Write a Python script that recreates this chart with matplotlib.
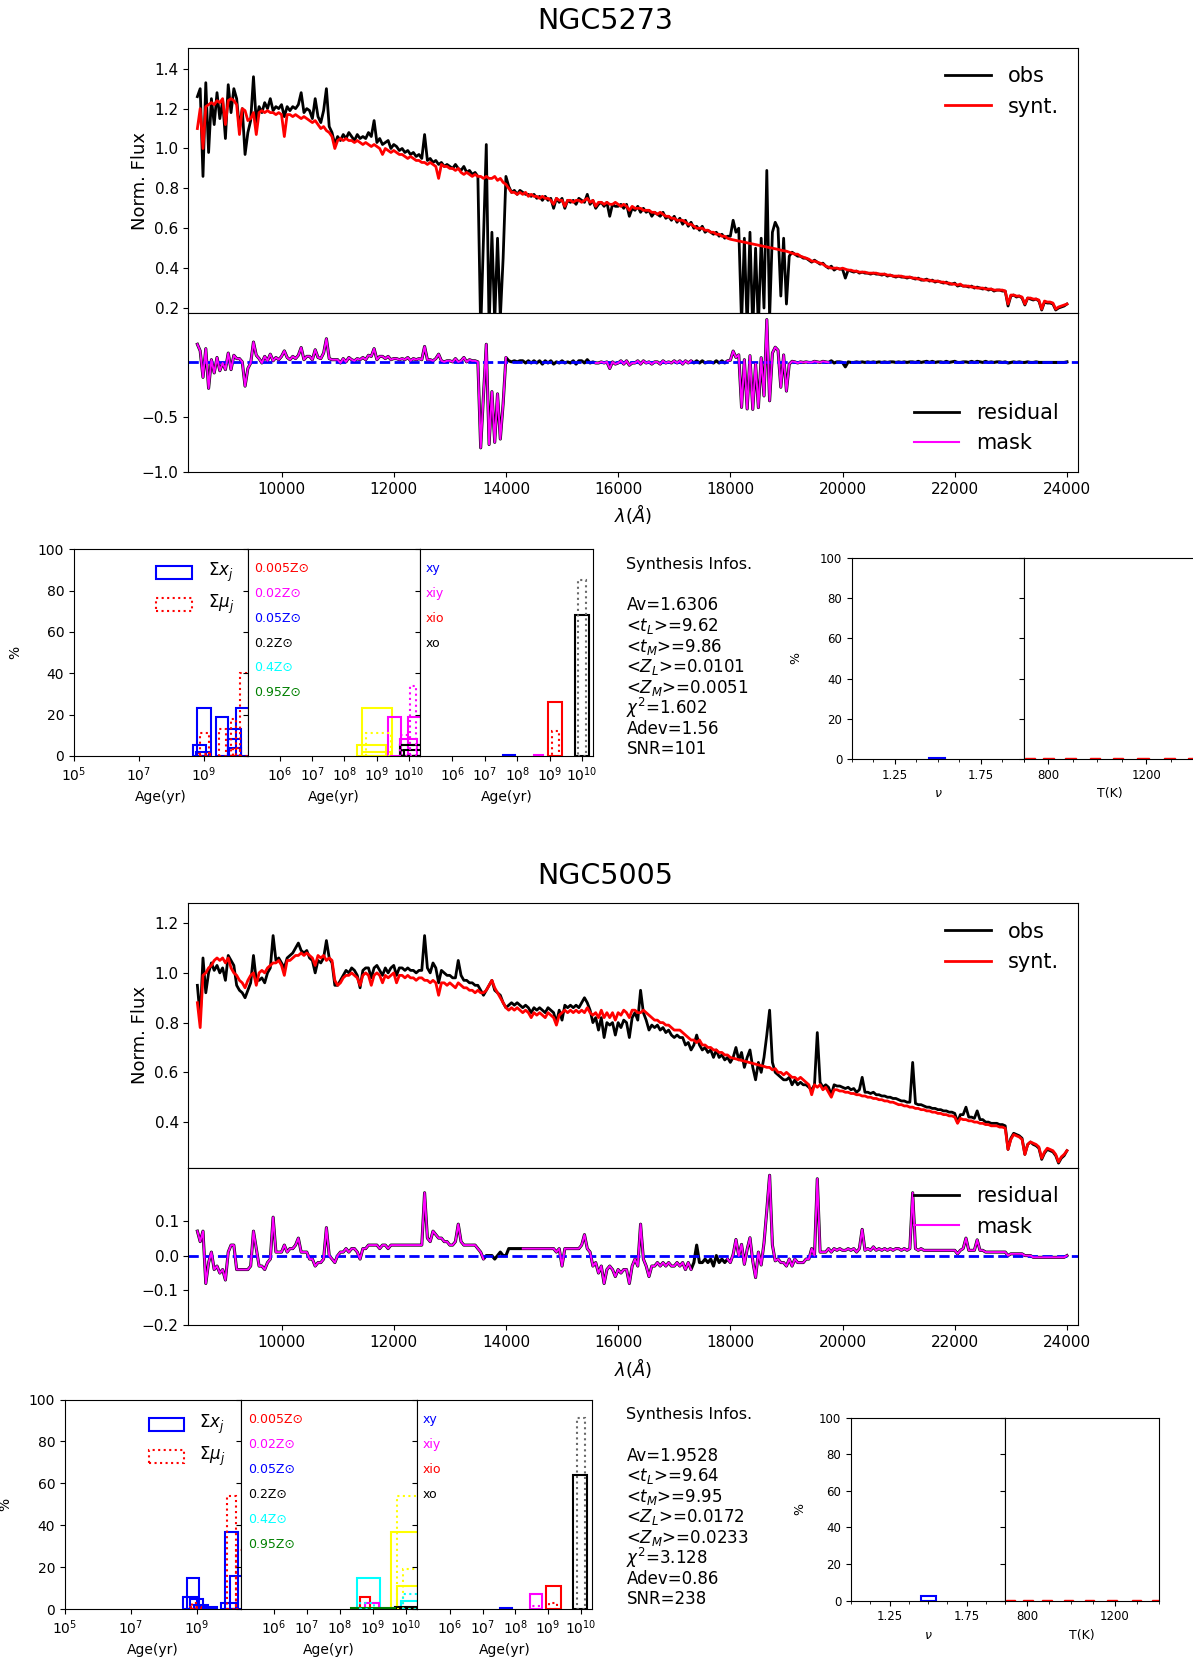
import numpy as np
import matplotlib
matplotlib.use("Agg")
import matplotlib.pyplot as plt
from matplotlib.patches import Rectangle
from matplotlib.lines import Line2D
from matplotlib.ticker import MultipleLocator, NullLocator

plt.rcParams['font.family'] = ['DejaVu Sans']

W, H = 1193, 1660

# ---------------- data ----------------
wave = np.arange(8500, 24001, 50)

n5273_synt = [
    1.10, 1.20, 1.00, 1.21, 1.22, 1.23, 1.22, 1.24, 1.23, 1.25,
    1.12, 1.24, 1.25, 1.24, 1.22, 1.07, 1.20, 1.19, 1.14, 1.15,
    1.18, 1.07, 1.18, 1.19, 1.18, 1.19, 1.18, 1.18, 1.17, 1.18,
    1.17, 1.06, 1.17, 1.17, 1.16, 1.17, 1.16, 1.15, 1.16, 1.15,
    1.14, 1.13, 1.14, 1.12, 1.10, 1.11, 1.09, 1.08, 1.06, 1.00,
    1.04, 1.05, 1.04, 1.05, 1.04, 1.04, 1.03, 1.04, 1.03, 1.02,
    1.03, 1.02, 1.01, 1.02, 1.01, 1.00, 0.97, 1.00, 0.99, 0.98,
    0.99, 0.98, 0.97, 0.97, 0.96, 0.95, 0.96, 0.95, 0.94, 0.94,
    0.93, 0.93, 0.92, 0.93, 0.92, 0.91, 0.85, 0.92, 0.91, 0.91,
    0.90, 0.90, 0.89, 0.90, 0.88, 0.87, 0.88, 0.87, 0.86, 0.87,
    0.86, 0.86, 0.85, 0.86, 0.85, 0.85, 0.86, 0.84, 0.85, 0.83,
    0.82, 0.80, 0.78, 0.78, 0.77, 0.78, 0.77, 0.78, 0.76, 0.77,
    0.76, 0.76, 0.75, 0.76, 0.75, 0.75, 0.74, 0.72, 0.75, 0.74,
    0.74, 0.71, 0.74, 0.74, 0.73, 0.74, 0.74, 0.73, 0.74, 0.75,
    0.73, 0.74, 0.71, 0.73, 0.73, 0.72, 0.73, 0.72, 0.72, 0.73,
    0.72, 0.71, 0.72, 0.71, 0.69, 0.71, 0.70, 0.70, 0.70, 0.69,
    0.69, 0.69, 0.68, 0.68, 0.67, 0.68, 0.67, 0.66, 0.66, 0.65,
    0.65, 0.64, 0.64, 0.64, 0.63, 0.62, 0.62, 0.61, 0.60, 0.60,
    0.60, 0.59, 0.59, 0.58, 0.58, 0.57, 0.57, 0.56, 0.56, 0.55,
    0.545, 0.542, 0.539, 0.536, 0.533, 0.530, 0.527, 0.524, 0.521, 0.518,
    0.515, 0.512, 0.509, 0.506, 0.503, 0.500, 0.497, 0.494, 0.490, 0.487,
    0.485, 0.48, 0.475, 0.47, 0.47, 0.46, 0.455, 0.45, 0.445, 0.435,
    0.435, 0.43, 0.425, 0.42, 0.41, 0.405, 0.40, 0.40, 0.40, 0.395,
    0.40, 0.395, 0.39, 0.39, 0.385, 0.385, 0.38, 0.38, 0.38, 0.375,
    0.375, 0.375, 0.375, 0.37, 0.37, 0.37, 0.365, 0.365, 0.36, 0.36,
    0.36, 0.36, 0.355, 0.355, 0.355, 0.35, 0.35, 0.345, 0.345, 0.34,
    0.34, 0.34, 0.335, 0.335, 0.335, 0.33, 0.33, 0.325, 0.325, 0.32,
    0.32, 0.315, 0.32, 0.31, 0.31, 0.31, 0.305, 0.305, 0.30, 0.30,
    0.30, 0.295, 0.295, 0.295, 0.29, 0.29, 0.29, 0.29, 0.285, 0.22,
    0.265, 0.265, 0.26, 0.26, 0.255, 0.22, 0.25, 0.25, 0.245, 0.245,
    0.24, 0.195, 0.235, 0.23, 0.23, 0.225, 0.195, 0.205, 0.21, 0.215,
    0.22]

n5273_obs = [
    1.26, 1.30, 0.86, 1.33, 0.98, 1.25, 1.12, 1.28, 1.15, 1.24,
    1.05, 1.32, 1.18, 1.30, 1.25, 1.10, 1.20, 0.97, 1.08, 1.14,
    1.36, 1.13, 1.21, 1.18, 1.23, 1.20, 1.25, 1.19, 1.21, 1.20,
    1.22, 1.16, 1.21, 1.19, 1.21, 1.20, 1.22, 1.28, 1.18, 1.20,
    1.19, 1.15, 1.25, 1.16, 1.13, 1.19, 1.30, 1.11, 1.08, 1.02,
    1.06, 1.04, 1.07, 1.05, 1.08, 1.06, 1.04, 1.07, 1.05, 1.06,
    1.05, 1.08, 1.06, 1.14, 1.03, 1.05, 1.02, 1.03, 1.04, 1.00,
    1.02, 1.01, 0.99, 1.00, 0.98, 0.99, 0.97, 0.98, 0.96, 0.97,
    0.95, 1.07, 0.94, 0.95, 0.93, 0.94, 0.92, 0.93, 0.91, 0.92,
    0.91, 0.90, 0.92, 0.90, 0.89, 0.91, 0.88, 0.89, 0.87, 0.88,
    0.86, 0.08, 0.55, 1.02, 0.10, 0.58, 0.13, 0.55, 0.15, 0.45,
    0.86, 0.81, 0.78, 0.79, 0.77, 0.79, 0.78, 0.77, 0.77, 0.76,
    0.77, 0.75, 0.76, 0.74, 0.76, 0.74, 0.75, 0.70, 0.75, 0.73,
    0.75, 0.70, 0.74, 0.73, 0.74, 0.72, 0.75, 0.74, 0.73, 0.77,
    0.72, 0.74, 0.70, 0.72, 0.73, 0.71, 0.73, 0.66, 0.72, 0.71,
    0.71, 0.72, 0.70, 0.72, 0.66, 0.70, 0.69, 0.71, 0.68, 0.70,
    0.68, 0.69, 0.66, 0.68, 0.67, 0.66, 0.68, 0.65, 0.66, 0.64,
    0.66, 0.63, 0.65, 0.62, 0.64, 0.61, 0.63, 0.60, 0.61, 0.59,
    0.61, 0.58, 0.59, 0.58, 0.57, 0.58, 0.56, 0.57, 0.55, 0.56,
    0.56, 0.64, 0.58, 0.60, 0.12, 0.55, 0.10, 0.58, 0.09, 0.50,
    0.10, 0.55, 0.20, 0.89, 0.15, 0.58, 0.63, 0.60, 0.26, 0.55,
    0.22, 0.46, 0.48, 0.47, 0.46, 0.46, 0.45, 0.45, 0.44, 0.43,
    0.44, 0.43, 0.42, 0.425, 0.41, 0.40, 0.41, 0.39, 0.40, 0.395,
    0.395, 0.35, 0.39, 0.385, 0.38, 0.385, 0.375, 0.38, 0.375, 0.375,
    0.37, 0.375, 0.37, 0.37, 0.365, 0.37, 0.36, 0.365, 0.36, 0.355,
    0.36, 0.355, 0.355, 0.35, 0.355, 0.35, 0.345, 0.35, 0.34, 0.34,
    0.345, 0.335, 0.34, 0.33, 0.335, 0.33, 0.325, 0.33, 0.32, 0.32,
    0.325, 0.31, 0.315, 0.31, 0.31, 0.305, 0.31, 0.30, 0.305, 0.30,
    0.295, 0.30, 0.29, 0.295, 0.285, 0.29, 0.29, 0.285, 0.285, 0.21,
    0.26, 0.265, 0.255, 0.26, 0.25, 0.215, 0.25, 0.245, 0.24, 0.245,
    0.235, 0.19, 0.23, 0.225, 0.225, 0.22, 0.19, 0.20, 0.205, 0.21,
    0.22]

n5005_synt = [
    0.88, 0.78, 0.99, 1.00, 1.02, 1.03, 1.05, 1.06, 1.05, 1.06,
    1.04, 1.06, 1.02, 1.00, 0.99, 0.97, 0.96, 0.94, 0.97, 0.99,
    1.00, 0.95, 1.00, 1.01, 1.00, 1.02, 1.03, 1.04, 1.04, 1.05,
    1.03, 0.99, 1.05, 1.05, 1.06, 1.07, 1.07, 1.08, 1.07, 1.08,
    1.07, 1.06, 1.03, 1.07, 1.06, 1.07, 1.05, 1.06, 1.05, 0.97,
    0.95, 0.96, 0.98, 0.99, 0.99, 1.00, 0.99, 0.98, 0.95, 0.99,
    1.00, 0.99, 0.95, 0.99, 1.00, 0.99, 0.96, 0.99, 0.98, 0.99,
    1.00, 0.96, 0.99, 0.99, 0.98, 0.99, 0.98, 0.98, 0.97, 0.98,
    0.98, 0.97, 0.97, 0.96, 0.97, 0.96, 0.91, 0.96, 0.96, 0.95,
    0.96, 0.95, 0.94, 0.96, 0.95, 0.94, 0.94, 0.93, 0.93, 0.92,
    0.93, 0.92, 0.92, 0.93, 0.95, 0.97, 0.94, 0.92, 0.90, 0.88,
    0.86, 0.85, 0.86, 0.85, 0.86, 0.85, 0.84, 0.85, 0.84, 0.82,
    0.84, 0.83, 0.84, 0.83, 0.82, 0.84, 0.83, 0.82, 0.79, 0.83,
    0.84, 0.85, 0.84, 0.85, 0.84, 0.85, 0.84, 0.85, 0.84, 0.86,
    0.84, 0.83, 0.84, 0.82, 0.85, 0.82, 0.84, 0.82, 0.84, 0.81,
    0.84, 0.83, 0.85, 0.84, 0.82, 0.85, 0.85, 0.84, 0.84, 0.85,
    0.84, 0.83, 0.82, 0.81, 0.81, 0.80, 0.80, 0.79, 0.79, 0.78,
    0.77, 0.77, 0.77, 0.76, 0.75, 0.74, 0.73, 0.73, 0.72, 0.73,
    0.71, 0.71, 0.70, 0.70, 0.69, 0.69, 0.68, 0.68, 0.67, 0.67,
    0.660, 0.657, 0.654, 0.651, 0.648, 0.645, 0.642, 0.639, 0.636, 0.633,
    0.630, 0.627, 0.624, 0.620, 0.620, 0.610, 0.615, 0.600, 0.600, 0.590,
    0.60, 0.59, 0.58, 0.58, 0.57, 0.58, 0.57, 0.56, 0.55, 0.51,
    0.55, 0.54, 0.55, 0.53, 0.54, 0.52, 0.50, 0.53, 0.53, 0.525,
    0.525, 0.52, 0.52, 0.515, 0.515, 0.51, 0.51, 0.505, 0.505, 0.50,
    0.50, 0.495, 0.495, 0.49, 0.49, 0.485, 0.485, 0.48, 0.48, 0.475,
    0.47, 0.47, 0.465, 0.465, 0.46, 0.46, 0.455, 0.455, 0.45, 0.45,
    0.445, 0.445, 0.44, 0.44, 0.435, 0.435, 0.43, 0.43, 0.425, 0.425,
    0.42, 0.395, 0.415, 0.41, 0.41, 0.405, 0.405, 0.40, 0.40, 0.395,
    0.395, 0.39, 0.39, 0.385, 0.385, 0.385, 0.38, 0.38, 0.375, 0.29,
    0.33, 0.35, 0.345, 0.34, 0.33, 0.27, 0.31, 0.32, 0.315, 0.31,
    0.30, 0.255, 0.28, 0.295, 0.29, 0.285, 0.27, 0.24, 0.26, 0.27,
    0.285]

n5005_obs = [
    0.95, 0.82, 1.06, 0.92, 1.00, 1.04, 1.01, 1.03, 1.00, 1.02,
    0.97, 1.07, 1.05, 1.03, 0.95, 0.93, 0.92, 0.90, 0.93, 0.96,
    1.07, 0.97, 0.97, 0.98, 0.96, 1.00, 1.02, 1.15, 1.05, 1.06,
    1.04, 1.02, 1.06, 1.07, 1.08, 1.10, 1.12, 1.09, 1.08, 1.09,
    1.06, 1.05, 1.00, 1.05, 1.04, 1.06, 1.13, 1.06, 1.04, 0.95,
    0.95, 0.97, 0.99, 1.01, 1.00, 1.02, 1.01, 0.99, 0.94, 1.01,
    1.02, 1.02, 0.98, 1.02, 1.03, 1.01, 0.99, 1.02, 1.00, 1.02,
    1.03, 0.99, 1.02, 1.02, 1.01, 1.02, 1.01, 1.01, 1.00, 1.01,
    1.01, 1.15, 1.02, 1.00, 1.04, 1.02, 0.96, 1.01, 1.00, 0.99,
    0.99, 0.98, 0.98, 1.05, 0.99, 0.97, 0.97, 0.96, 0.96, 0.95,
    0.95, 0.93, 0.91, 0.93, 0.95, 0.97, 0.93, 0.92, 0.91, 0.88,
    0.86, 0.87, 0.88, 0.87, 0.88, 0.87, 0.86, 0.87, 0.86, 0.84,
    0.86, 0.85, 0.86, 0.85, 0.84, 0.86, 0.85, 0.84, 0.80, 0.85,
    0.81, 0.87, 0.86, 0.87, 0.86, 0.87, 0.86, 0.88, 0.90, 0.88,
    0.85, 0.80, 0.82, 0.77, 0.82, 0.74, 0.80, 0.79, 0.80, 0.75,
    0.80, 0.78, 0.81, 0.80, 0.74, 0.82, 0.84, 0.81, 0.93, 0.84,
    0.81, 0.77, 0.79, 0.78, 0.79, 0.77, 0.78, 0.76, 0.77, 0.75,
    0.74, 0.75, 0.74, 0.74, 0.71, 0.72, 0.69, 0.71, 0.75, 0.71,
    0.69, 0.70, 0.68, 0.69, 0.66, 0.69, 0.66, 0.67, 0.65, 0.66,
    0.64, 0.66, 0.70, 0.65, 0.68, 0.62, 0.66, 0.69, 0.62, 0.57,
    0.64, 0.60, 0.66, 0.75, 0.85, 0.64, 0.60, 0.59, 0.58, 0.57,
    0.57, 0.58, 0.55, 0.57, 0.55, 0.56, 0.55, 0.55, 0.54, 0.53,
    0.55, 0.76, 0.56, 0.54, 0.55, 0.54, 0.51, 0.55, 0.545, 0.545,
    0.54, 0.535, 0.54, 0.53, 0.535, 0.52, 0.53, 0.58, 0.52, 0.52,
    0.515, 0.52, 0.51, 0.51, 0.505, 0.505, 0.50, 0.50, 0.495, 0.495,
    0.49, 0.485, 0.485, 0.48, 0.48, 0.64, 0.475, 0.47, 0.47, 0.465,
    0.46, 0.46, 0.455, 0.455, 0.45, 0.45, 0.445, 0.445, 0.44, 0.44,
    0.435, 0.40, 0.43, 0.43, 0.46, 0.42, 0.42, 0.415, 0.445, 0.41,
    0.41, 0.40, 0.40, 0.395, 0.395, 0.395, 0.39, 0.39, 0.385, 0.29,
    0.335, 0.355, 0.35, 0.345, 0.335, 0.27, 0.31, 0.32, 0.31, 0.305,
    0.295, 0.25, 0.275, 0.29, 0.285, 0.28, 0.265, 0.235, 0.255, 0.265,
    0.285]

n5273_mask = [(8500, 14000), (15600, 17300), (17950, 19750)]
n5005_mask = [(8500, 13600), (14300, 17300), (17950, 24000)]

# histogram bars: (log10 age low, log10 age high, percent)
n5273_sum_x = [(8.67, 9.06, 5), (8.79, 9.22, 23), (8.76, 9.16, 2), (9.36, 9.75, 19),
               (9.73, 10.15, 13), (9.74, 10.13, 8), (9.77, 10.15, 4), (9.98, 10.5, 23)]
n5273_sum_mu = [(8.88, 9.16, 11), (8.85, 9.20, 1), (9.46, 9.68, 13), (9.83, 10.0, 18),
                (9.88, 10.12, 4), (10.1, 10.4, 40)]
n5273_Z_x = {'1.5': [(8.53, 9.46, 23), (8.39, 9.30, 5), (8.53, 9.43, 2)],
             '0.02': [(9.36, 9.76, 19), (9.98, 10.4, 19), (9.71, 10.24, 8)],
             '0.2': [(9.71, 10.4, 5), (9.85, 10.4, 3)]}
n5273_Z_mu = {'1.5': [(8.67, 9.43, 11)],
              '0.02': [(10.04, 10.22, 34), (9.73, 10.04, 10)],
              '0.2': [(9.79, 10.4, 5)]}
n5273_comp_x = {'xy': [(7.55, 7.92, 0.3)], 'xiy': [(8.53, 8.80, 0.3)],
                'xio': [(8.96, 9.39, 26)], 'xo': [(9.78, 10.22, 68)]}
n5273_comp_mu = {'xio': [(9.06, 9.30, 12)], 'xo': [(9.88, 10.12, 85)]}

n5005_sum_x = [(8.58, 9.02, 6), (8.70, 9.08, 15), (8.78, 9.20, 5), (8.90, 9.35, 2),
               (9.08, 9.60, 1), (9.74, 10.19, 3), (9.84, 10.26, 37), (10.02, 10.47, 16)]
n5005_sum_mu = [(8.84, 9.02, 3), (8.78, 9.14, 1), (9.92, 10.19, 54), (10.19, 10.4, 28)]
n5005_Z_x = {'0.4': [(8.52, 9.22, 15), (9.85, 10.4, 4)],
             '0.005': [(8.61, 8.91, 6)],
             '0.02': [(8.76, 9.19, 3)],
             '1.5': [(9.55, 10.4, 37), (9.73, 10.4, 11)],
             '0.2': [(9.67, 10.4, 1)],
             '0.95': [(8.34, 9.67, 0.4)]}
n5005_Z_mu = {'1.5': [(9.73, 10.4, 54), (9.92, 10.4, 19)],
              '0.4': [(9.92, 10.4, 7), (8.62, 9.05, 3)]}
n5005_comp_x = {'xy': [(7.54, 7.90, 0.3)], 'xiy': [(8.44, 8.82, 7)],
                'xio': [(8.95, 9.38, 11)], 'xo': [(9.76, 10.18, 64)]}
n5005_comp_mu = {'xiy': [(8.50, 8.74, 1.5)], 'xio': [(9.04, 9.28, 3)], 'xo': [(9.88, 10.12, 91)]}

n5273_nu = [(1.45, 1.54, 0.3)]
n5005_nu = [(1.452, 1.55, 2.5)]
temp_bins = [(705, 745, 0.3), (780, 825, 0.3), (870, 915, 0.3), (970, 1010, 0.3),
             (1065, 1105, 0.3), (1165, 1210, 0.3), (1275, 1320, 0.3), (1370, 1400, 0.3)]

z_labels = ['0.005', '0.02', '0.05', '0.2', '0.4', '0.95']
comp_labels = ['xy', 'xiy', 'xio', 'xo']

n5273_info = ['Av=1.6306', '<$t_L$>=9.62', '<$t_M$>=9.86', '<$Z_L$>=0.0101',
              '<$Z_M$>=0.0051', r'$\chi^2$=1.602', 'Adev=1.56', 'SNR=101']
n5005_info = ['Av=1.9528', '<$t_L$>=9.64', '<$t_M$>=9.95', '<$Z_L$>=0.0172',
              '<$Z_M$>=0.0233', r'$\chi^2$=3.128', 'Adev=0.86', 'SNR=238']

# ---------------- styles ----------------
Z_COLORS = {'0.005': 'red', '0.02': 'magenta', '0.05': 'blue', '0.2': 'black',
            '0.4': 'cyan', '0.95': 'green', '1.5': 'yellow'}
COMP_COLORS = {'xy': 'blue', 'xiy': 'magenta', 'xio': 'red', 'xo': 'black'}
COMP_MU_COLORS = {'xy': 'blue', 'xiy': 'magenta', 'xio': 'red', 'xo': 'dimgray'}

fig = plt.figure(figsize=(W / 100, H / 100), dpi=100)


def rect(x0, y0, x1, y1):
    return [x0 / W, 1 - y1 / H, (x1 - x0) / W, (y1 - y0) / H]


def mask_of(w, intervals):
    m = np.zeros(w.shape, bool)
    for a, b in intervals:
        m |= (w >= a) & (w <= b)
    return m


def bars(ax, data, color, ls, log=True, lw=1.5):
    for lo, hi, h in data:
        x0 = 10 ** lo if log else lo
        x1 = 10 ** hi if log else hi
        ax.bar(x0, h, width=x1 - x0, align='edge', fill=False,
               edgecolor=color, linestyle=ls, linewidth=lw)


def galaxy(name, title_y, spec_y, res_y, ylim_top, yticks_top, ylim_res, yticks_res,
           res_legend_loc, obs, synt, mask_iv,
           hist_x, hist_y, sum_x, sum_mu, zx, zmu, cx, cmu,
           info_y, right_x, right_y, nu, info, leg_rect):
    fig.text(605 / W, 1 - title_y / H, name, ha='center', va='center', fontsize=20.5)
    obs = np.array(obs)
    synt = np.array(synt)
    x0, x1 = 188.4, 1077.6
    ax = fig.add_axes(rect(x0, spec_y[0], x1, spec_y[1]))
    ax.plot(wave, obs, color='black', lw=2, label='obs')
    ax.plot(wave, synt, color='red', lw=2, label='synt.')
    ax.set_xlim(8340, 24190)
    ax.set_ylim(*ylim_top)
    ax.set_yticks(yticks_top)
    ax.tick_params(bottom=False, labelbottom=False, labelsize=11)
    ax.set_ylabel('Norm. Flux', fontsize=13)
    ax.legend(loc='upper right', frameon=False, fontsize=15, handlelength=2.2)

    axr = fig.add_axes(rect(x0, res_y[0], x1, res_y[1]))
    res = obs - synt
    m = mask_of(wave, mask_iv)
    axr.plot(wave, res, color='black', lw=2.2)
    axr.axhline(0, color='blue', ls='--', lw=2)
    axr.plot(wave, np.where(m, res, np.nan), color='magenta', lw=1.4)
    axr.set_xlim(8340, 24190)
    axr.set_ylim(*ylim_res)
    axr.set_yticks(yticks_res)
    axr.set_xticks(np.arange(10000, 24001, 2000))
    axr.tick_params(labelsize=11)
    axr.set_xlabel(r'$\lambda(\AA)$', fontsize=13)
    handles = [Line2D([], [], color='black', lw=2), Line2D([], [], color='magenta', lw=1.5)]
    axr.legend(handles, ['residual', 'mask'], loc=res_legend_loc, frameon=False,
               fontsize=15, handlelength=2.2)

    # histograms
    axes = []
    for i in range(3):
        a = fig.add_axes(rect(hist_x[i], hist_y[0], hist_x[i + 1], hist_y[1]))
        a.set_xscale('log')
        a.set_xlim(1e5, 10 ** 10.34)
        a.set_ylim(0, 100)
        a.set_yticks([0, 20, 40, 60, 80, 100])
        a.xaxis.set_minor_locator(NullLocator())
        a.tick_params(labelsize=10)
        a.set_xlabel('Age(yr)', fontsize=10)
        if i == 0:
            a.set_xticks([1e5, 1e7, 1e9])
            a.set_ylabel('%', fontsize=10)
            a.yaxis.set_label_coords(-0.3, 0.5)
        else:
            a.set_xticks([1e6, 1e7, 1e8, 1e9, 1e10])
            a.tick_params(labelleft=False)
        axes.append(a)
    a1, a2, a3 = axes
    bars(a1, sum_x, 'blue', '-')
    bars(a1, sum_mu, 'red', ':')
    lx, lw_, ly1, ly2, lh, tx = leg_rect
    a1.add_patch(Rectangle((lx, ly1), lw_, lh, transform=a1.transAxes, fill=False,
                           edgecolor='blue', lw=1.5))
    a1.add_patch(Rectangle((lx, ly2), lw_, lh, transform=a1.transAxes, fill=False,
                           edgecolor='red', lw=1.5, ls=':'))
    a1.text(tx, ly1 + lh / 2, r'$\Sigma x_j$', transform=a1.transAxes, fontsize=12, va='center')
    a1.text(tx, ly2 + lh / 2, r'$\Sigma \mu_j$', transform=a1.transAxes, fontsize=12, va='center')

    for k, v in zx.items():
        bars(a2, v, Z_COLORS[k], '-')
    for k, v in zmu.items():
        bars(a2, v, Z_COLORS[k], ':')
    for j, z in enumerate(z_labels):
        a2.text(0.04, 0.906 - 0.12 * j, z + 'Z\u2299', transform=a2.transAxes,
                color=Z_COLORS[z], fontsize=9, va='center')

    for k, v in cx.items():
        bars(a3, v, COMP_COLORS[k], '-')
    for k, v in cmu.items():
        bars(a3, v, COMP_MU_COLORS[k], ':')
    for j, c in enumerate(comp_labels):
        a3.text(0.035, 0.906 - 0.12 * j, c, transform=a3.transAxes,
                color=COMP_COLORS[c], fontsize=9, va='center')

    # info text
    fig.text(626.5 / W, 1 - info_y / H, 'Synthesis Infos.', fontsize=11.5, va='center')
    for j, s in enumerate(info):
        fig.text(626.5 / W, 1 - (info_y + 41.5 + 20.5 * j) / H, s, fontsize=12, va='center')

    # right panels
    an = fig.add_axes(rect(right_x[0], right_y[0], right_x[1], right_y[1]))
    bars(an, nu, 'blue', '-', log=False)
    an.set_xlim(1.0, 2.0)
    an.set_ylim(0, 100)
    an.set_xticks([1.25, 1.75])
    an.xaxis.set_minor_locator(MultipleLocator(0.125))
    an.set_yticks([0, 20, 40, 60, 80, 100])
    an.tick_params(labelsize=8.5)
    an.set_xlabel(r'$\nu$', fontsize=9)
    an.set_ylabel('%', fontsize=9)
    an.yaxis.set_label_coords(-0.29, 0.5)

    at = fig.add_axes(rect(right_x[1], right_y[0], right_x[2], right_y[1]))
    bars(at, temp_bins, 'red', '-', log=False, lw=1.0)
    at.set_xlim(700, 1400)
    at.set_ylim(0, 100)
    at.set_xticks([800, 1200])
    at.xaxis.set_minor_locator(MultipleLocator(100))
    at.set_yticks([0, 20, 40, 60, 80, 100])
    at.tick_params(labelsize=8.5, labelleft=False)
    at.set_xlabel('T(K)', fontsize=9)


galaxy('NGC5273', 21, (47.6, 313.4), (313.4, 472.1), (0.173, 1.506),
       [0.2, 0.4, 0.6, 0.8, 1.0, 1.2, 1.4], (-1.0, 0.44), [-1.0, -0.5], 'lower right',
       n5273_obs, n5273_synt, n5273_mask,
       (74, 247.5, 420, 593), (549.4, 755.8),
       n5273_sum_x, n5273_sum_mu, n5273_Z_x, n5273_Z_mu, n5273_comp_x, n5273_comp_mu,
       564, (852, 1023.7, 1195), (557.9, 759.0), n5273_nu, n5273_info,
       (0.474, 0.206, 0.855, 0.70, 0.065, 0.77))

galaxy('NGC5005', 876.5, (903, 1167.6), (1167.6, 1325.4), (0.217, 1.281),
       [0.4, 0.6, 0.8, 1.0, 1.2], (-0.2, 0.252), [-0.2, -0.1, 0.0, 0.1], 'upper right',
       n5005_obs, n5005_synt, n5005_mask,
       (65, 241, 417, 592), (1399.5, 1609.1),
       n5005_sum_x, n5005_sum_mu, n5005_Z_x, n5005_Z_mu, n5005_comp_x, n5005_comp_mu,
       1414, (851, 1005, 1159), (1417.5, 1600.6), n5005_nu, n5005_info,
       (0.479, 0.197, 0.849, 0.695, 0.063, 0.764))

fig.savefig('out.png', dpi=100)
